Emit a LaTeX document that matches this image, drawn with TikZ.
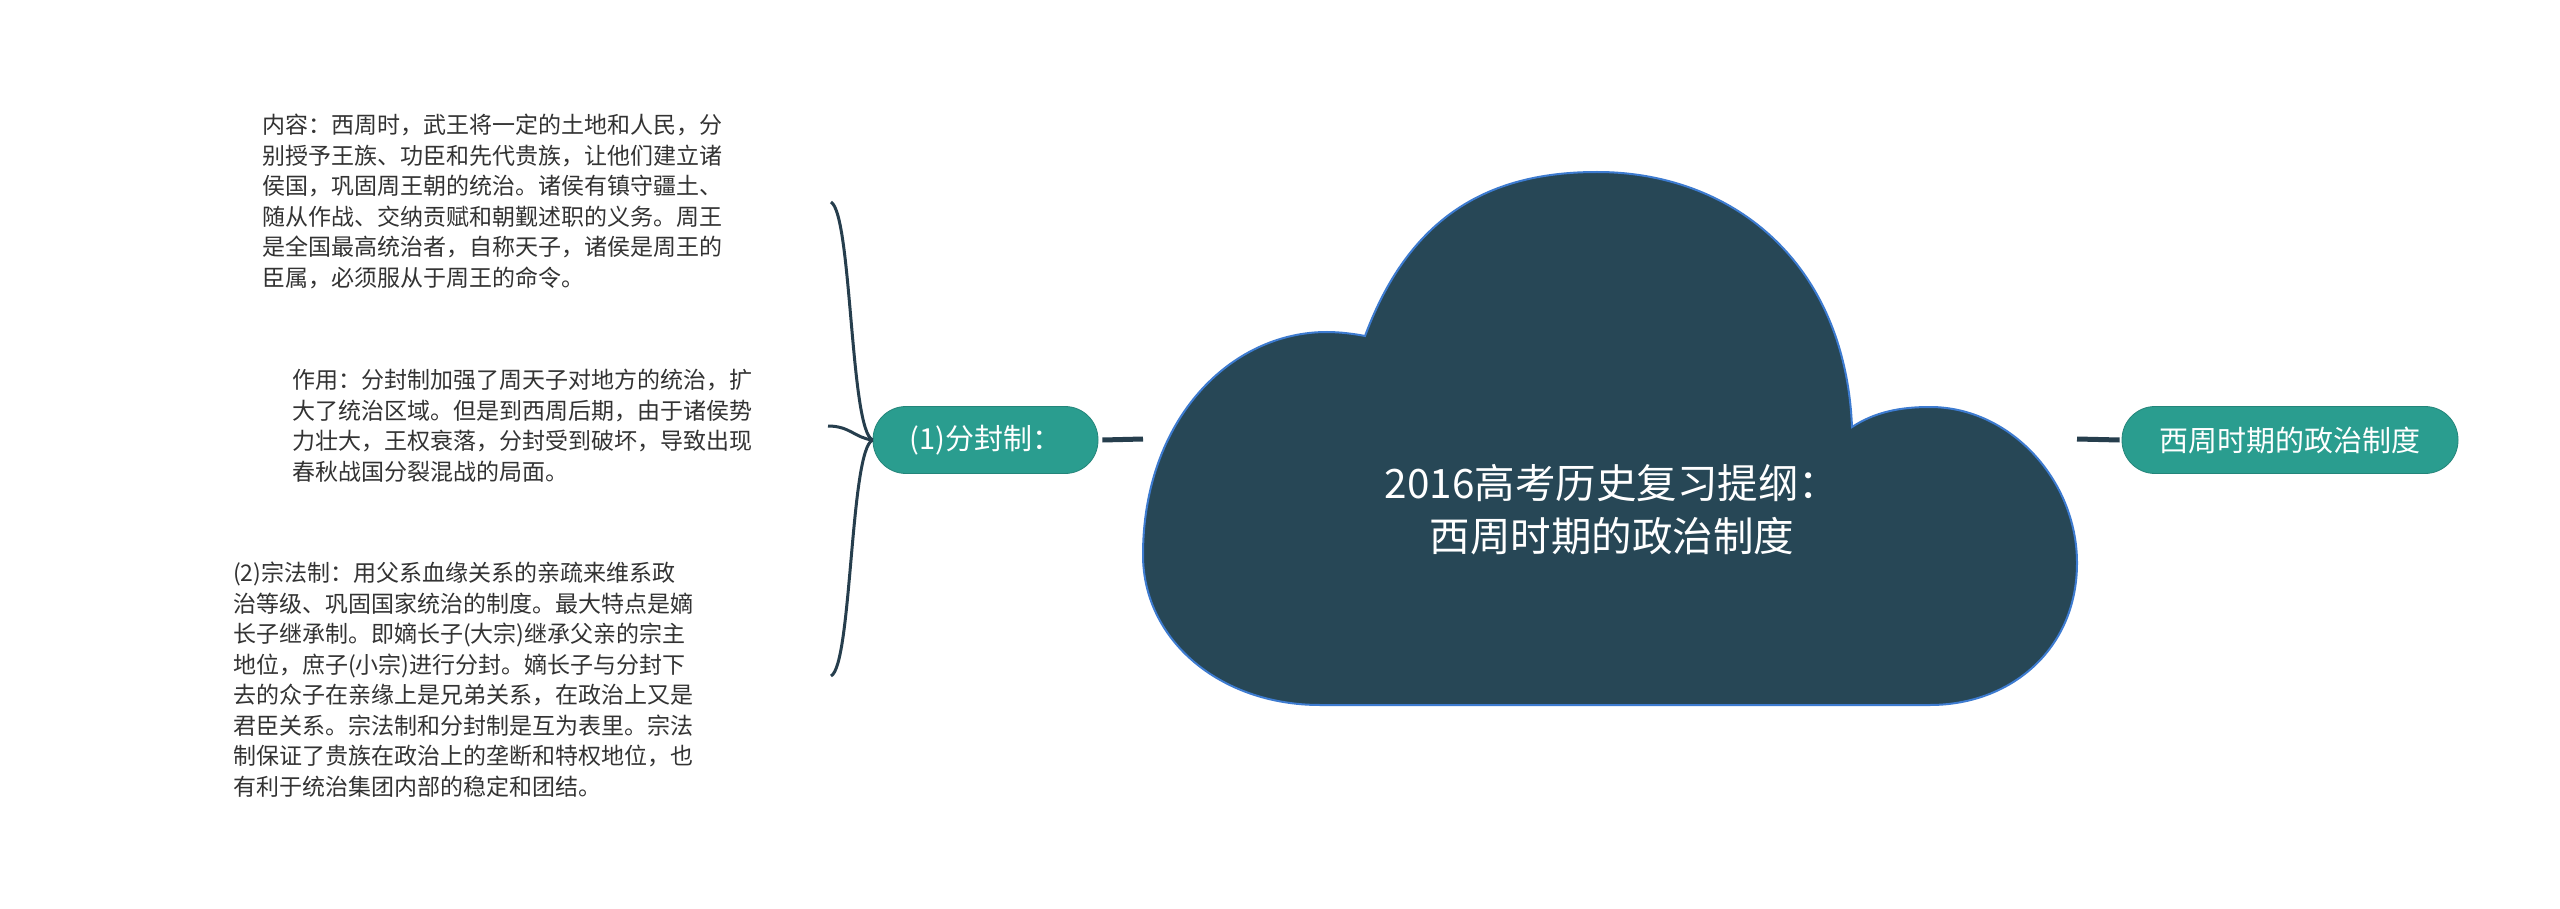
\documentclass[tikz,border=0pt]{standalone}
\usepackage{fontspec}
\setmainfont{Noto Sans CJK SC}
\definecolor{cloudfill}{HTML}{274756}
\definecolor{cloudedge}{HTML}{3D7BD0}
\definecolor{pillfill}{HTML}{2A9D8F}
\definecolor{linecol}{HTML}{263E4D}
\definecolor{textcol}{HTML}{333333}
\tikzset{
  bodytext/.style={anchor=north west, inner sep=0pt, align=left, text=textcol,
    font=\fontsize{23}{30.5}\selectfont},
  pill/.style={fill=pillfill, draw=pillfill!85!black, line width=0.8pt, rounded corners=33pt,
    minimum height=67pt, inner sep=0pt, text=white, font=\fontsize{29}{35}\selectfont},
  conn/.style={draw=linecol, line width=5pt},
  brace/.style={draw=linecol, line width=3pt},
  cloudtext/.style={align=center, text=white, inner sep=0pt, font=\fontsize{40.5}{53}\selectfont}
}
\begin{document}
\begin{tikzpicture}[x=1pt, y=-1pt]
\useasboundingbox (0,0) rectangle (2560,909);
\fill[white] (0,0) rectangle (2560,909);
% cloud
\draw[fill=cloudfill, draw=cloudedge, line width=2pt]
  (1320,705) .. controls (1220,705) and (1143,640) .. (1143,555)
  .. controls (1143,420) and (1230,332) .. (1327,332)
  .. controls (1340,332) and (1355,334) .. (1365,336)
  .. controls (1410,215) and (1490,172) .. (1597,172)
  .. controls (1730,172) and (1845,260) .. (1852,427)
  .. controls (1875,412) and (1900,407) .. (1930,407)
  .. controls (2010,407) and (2077,480) .. (2077,563)
  .. controls (2077,650) and (2010,705) .. (1930,705)
  -- cycle;
\coordinate (cloudL) at (1143,439);
\coordinate (cloudR) at (2077,439);
\node[cloudtext] (root) at (1612,510) {2016高考历史复习提纲：\\西周时期的政治制度};
% pills
\node[pill, minimum width=225pt] (p1) at (985.5,440) {(1)分封制：};
\node[pill, minimum width=336pt] (p2) at (2290,440) {西周时期的政治制度};
\draw[conn] ([xshift=4pt]p1.east) -- (cloudL);
\draw[conn] (cloudR) -- ([xshift=-2pt]p2.west);
% brace ends
\coordinate (b1) at (831,202);
\coordinate (b2) at (828,426);
\coordinate (b3) at (831,676);
\draw[brace] (p1.west) .. controls (850,430) and (852,215) .. (b1);
\draw[brace] (p1.west) .. controls (855,438) and (850,426) .. (b2);
\draw[brace] (p1.west) .. controls (850,450) and (852,665) .. (b3);
% text blocks
\node[bodytext] (t1) at (262,114) {内容：西周时，武王将一定的土地和人民，分\\别授予王族、功臣和先代贵族，让他们建立诸\\侯国，巩固周王朝的统治。诸侯有镇守疆土、\\随从作战、交纳贡赋和朝觐述职的义务。周王\\是全国最高统治者，自称天子，诸侯是周王的\\臣属，必须服从于周王的命令。};
\node[bodytext] (t2) at (292,369) {作用：分封制加强了周天子对地方的统治，扩\\大了统治区域。但是到西周后期，由于诸侯势\\力壮大，王权衰落，分封受到破坏，导致出现\\春秋战国分裂混战的局面。};
\node[bodytext] (t3) at (233,562) {(2)宗法制：用父系血缘关系的亲疏来维系政\\治等级、巩固国家统治的制度。最大特点是嫡\\长子继承制。即嫡长子(大宗)继承父亲的宗主\\地位，庶子(小宗)进行分封。嫡长子与分封下\\去的众子在亲缘上是兄弟关系，在政治上又是\\君臣关系。宗法制和分封制是互为表里。宗法\\制保证了贵族在政治上的垄断和特权地位，也\\有利于统治集团内部的稳定和团结。};
\end{tikzpicture}
\end{document}
